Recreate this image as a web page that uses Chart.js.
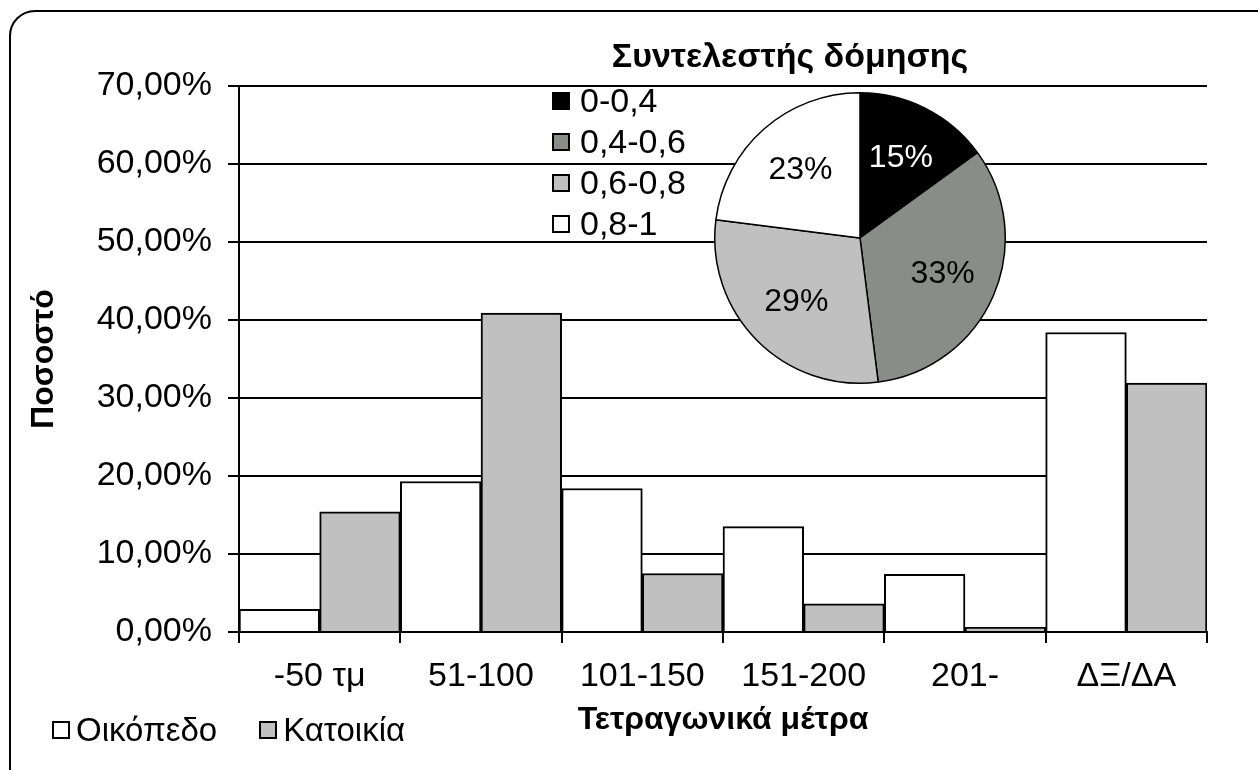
<!DOCTYPE html>
<html lang="el">
<head>
    <meta charset="UTF-8">
    <title>Τετραγωνικά μέτρα - Συντελεστής δόμησης</title>
    <script src="https://cdn.jsdelivr.net/npm/chart.js"></script>
    <style>
        html, body { margin: 0; padding: 0; background: #fff; overflow: hidden; }
        body { width: 1258px; height: 770px; position: relative; font-family: 'Liberation Sans', Arial, sans-serif; color: #000; }
        .frame { position: absolute; left: 9px; top: 10px; width: 1270px; height: 790px; border: 2px solid #000; border-radius: 26px; }
        #barChart { position: absolute; left: 0; top: 0; }
        #pieChart { position: absolute; left: 713px; top: 91px; }
        .pie-title { position: absolute; left: 590px; width: 400px; top: 35px; line-height: 40px; text-align: center; font-weight: bold; font-size: 34px; }
        .legend { position: absolute; font-size: 33px; line-height: 41px; }
        .legend .item { display: flex; align-items: center; white-space: nowrap; }
        .legend .box { width: 18px; height: 18px; border: 2px solid #000; box-sizing: border-box; }
        #pieLegend { left: 552px; top: 80px; font-size: 34px; }
        #pieLegend .box { margin-right: 10px; }
        #barLegend { left: 52px; top: 709px; display: flex; }
        #barLegend .box { margin-right: 6px; }
        #barLegend .item { margin-right: 42px; }
    </style>
</head>
<body>
    <div class="frame"></div>
    <canvas id="barChart" width="1258" height="770"></canvas>
    <canvas id="pieChart" width="294" height="294"></canvas>
    <div class="pie-title">Συντελεστής δόμησης</div>
    <div class="legend" id="pieLegend"></div>
    <div class="legend" id="barLegend"></div>

    <script>
        // Bar chart data (percent)
        const categories = ['-50 τμ', '51-100', '101-150', '151-200', '201-', 'ΔΞ/ΔΑ'];
        const plotValues = [2.9, 19.3, 18.4, 13.5, 7.4, 38.4];   // Οικόπεδο
        const houseValues = [15.4, 40.9, 7.5, 3.6, 0.6, 31.9];   // Κατοικία
        const barSeries = ['Οικόπεδο', 'Κατοικία'];
        const barColors = ['#ffffff', '#c0c0c0'];

        // Pie chart data (percent)
        const pieLabels = ['0-0,4', '0,4-0,6', '0,6-0,8', '0,8-1'];
        const pieValues = [15, 33, 29, 23];
        const pieColors = ['#000000', '#8a8c8a', '#c0c0c0', '#ffffff'];

        const fontFamily = "'Liberation Sans', Arial, sans-serif";
        Chart.defaults.font.family = fontFamily;
        Chart.defaults.color = '#000';

        // Bar chart
        const barCtx = document.getElementById('barChart').getContext('2d');
        new Chart(barCtx, {
            type: 'bar',
            data: {
                labels: categories,
                datasets: [
                    { label: barSeries[0], data: plotValues, backgroundColor: barColors[0], borderColor: '#000', borderWidth: 2 },
                    { label: barSeries[1], data: houseValues, backgroundColor: barColors[1], borderColor: '#000', borderWidth: 2 }
                ]
            },
            options: {
                responsive: false,
                animation: false,
                categoryPercentage: 1,
                barPercentage: 1,
                layout: { padding: { left: 18, right: 51, top: 86, bottom: 20 } },
                plugins: { legend: { display: false }, tooltip: { enabled: false } },
                scales: {
                    x: {
                        afterFit: (scale) => { scale.height = 118; },
                        grid: { offset: true, drawOnChartArea: false, color: '#000', lineWidth: 2, tickLength: 11 },
                        border: { color: '#000', width: 2 },
                        ticks: { font: { size: 34 }, padding: 13, maxRotation: 0 },
                        title: { display: true, text: 'Τετραγωνικά μέτρα', font: { size: 32, weight: 'bold' }, padding: { top: 0, bottom: 11 } }
                    },
                    y: {
                        min: 0,
                        max: 70,
                        afterFit: (scale) => { scale.width = 221; },
                        grid: { color: '#000', lineWidth: 2, tickLength: 11 },
                        border: { color: '#000', width: 2 },
                        ticks: {
                            stepSize: 10,
                            font: { size: 34 },
                            padding: 16,
                            callback: (v) => v.toFixed(2).replace('.', ',') + '%'
                        },
                        title: { display: true, text: 'Ποσοστό', font: { size: 32, weight: 'bold' }, padding: { top: 7, bottom: 0 } }
                    }
                }
            }
        });

        // Percent labels inside pie slices
        const sliceLabels = {
            id: 'sliceLabels',
            afterDatasetsDraw(chart) {
                const ctx = chart.ctx;
                const meta = chart.getDatasetMeta(0);
                ctx.save();
                ctx.font = '32px ' + fontFamily;
                ctx.textAlign = 'center';
                ctx.textBaseline = 'middle';
                meta.data.forEach((arc, i) => {
                    const p = arc.getProps(['x', 'y', 'startAngle', 'endAngle', 'outerRadius'], true);
                    const mid = (p.startAngle + p.endAngle) / 2;
                    const r = p.outerRadius * 0.62;
                    ctx.fillStyle = pieColors[i] === '#000000' ? '#fff' : '#000';
                    ctx.fillText(pieValues[i] + '%', p.x + Math.cos(mid) * r, p.y + Math.sin(mid) * r);
                });
                ctx.restore();
            }
        };

        const pieCtx = document.getElementById('pieChart').getContext('2d');
        new Chart(pieCtx, {
            type: 'pie',
            data: {
                labels: pieLabels,
                datasets: [{ data: pieValues, backgroundColor: pieColors, borderColor: '#000', borderWidth: 1.5 }]
            },
            options: {
                responsive: false,
                animation: false,
                layout: { padding: 1 },
                plugins: { legend: { display: false }, tooltip: { enabled: false } }
            },
            plugins: [sliceLabels]
        });

        // HTML legends
        function buildLegend(el, labels, colors) {
            labels.forEach((text, i) => {
                const item = document.createElement('div');
                item.className = 'item';
                const box = document.createElement('span');
                box.className = 'box';
                box.style.background = colors[i];
                const label = document.createElement('span');
                label.textContent = text;
                item.appendChild(box);
                item.appendChild(label);
                el.appendChild(item);
            });
        }
        buildLegend(document.getElementById('pieLegend'), pieLabels, pieColors);
        buildLegend(document.getElementById('barLegend'), barSeries, barColors);
    </script>
</body>
</html>
